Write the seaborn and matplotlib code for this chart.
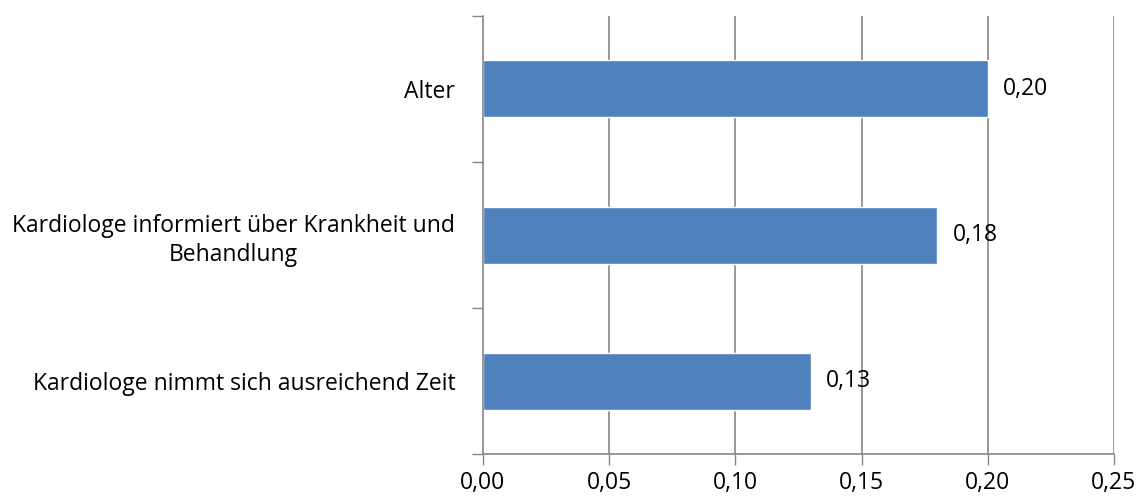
import matplotlib
matplotlib.use("Agg")
import matplotlib.pyplot as plt
import seaborn as sns
import pandas as pd

categories = [
    "Alter",
    "Kardiologe informiert über Krankheit und\nBehandlung",
    "Kardiologe nimmt sich ausreichend Zeit",
]
values = [0.20, 0.18, 0.13]
x_ticks = [0.00, 0.05, 0.10, 0.15, 0.20, 0.25]

sns.set_theme(style="white")
plt.rcParams["font.family"] = ["Open Sans", "DejaVu Sans"]
plt.rcParams["text.color"] = "black"
plt.rcParams["xtick.labelcolor"] = "black"
plt.rcParams["ytick.labelcolor"] = "black"

df = pd.DataFrame({"Kategorie": categories, "Wert": values})

fig = plt.figure(figsize=(11.39, 4.98), dpi=100)
ax = fig.add_axes([0.424, 0.088, 0.554, 0.880])

sns.barplot(data=df, x="Wert", y="Kategorie", orient="h", color="#4F81BD",
            saturation=1, width=0.39, ax=ax, zorder=3)

fs = 16.5
grid_c = "#868686"
ax.set_xlim(0, 0.25)
ax.set_ylim(2.5, -0.5)
ax.set_xticks(x_ticks)
ax.set_xticklabels([f"{t:.2f}".replace(".", ",") for t in x_ticks], fontsize=fs,
                   color="black")
ax.set_yticks([-0.5, 0.5, 1.5, 2.5])
ax.set_yticklabels([])
ax.set_yticks([0, 1, 2], minor=True)
ax.set_yticklabels(categories, minor=True, fontsize=fs, ha="right", color="black",
                   multialignment="center", linespacing=1.3)
ax.tick_params(axis="y", which="minor", length=0, pad=20)
ax.tick_params(axis="y", which="major", length=8, width=1, color=grid_c, direction="out", left=True)
ax.tick_params(axis="x", length=8, width=1, color=grid_c, direction="out", bottom=True, pad=4)

for x in x_ticks[1:]:
    ax.axvline(x, color=grid_c, lw=1.2, zorder=1)

for s in ["top", "right"]:
    ax.spines[s].set_visible(False)
for s in ["left", "bottom"]:
    ax.spines[s].set_color(grid_c)
    ax.spines[s].set_linewidth(1.2)
    ax.spines[s].set_zorder(4)

ax.set_xlabel("")
ax.set_ylabel("")

for i, v in enumerate(values):
    ax.annotate(f"{v:.2f}".replace(".", ","), xy=(v, i), xytext=(11, 0),
                textcoords="offset points", va="center", ha="left", fontsize=fs,
                color="black")

fig.savefig("out.png", dpi=100)
